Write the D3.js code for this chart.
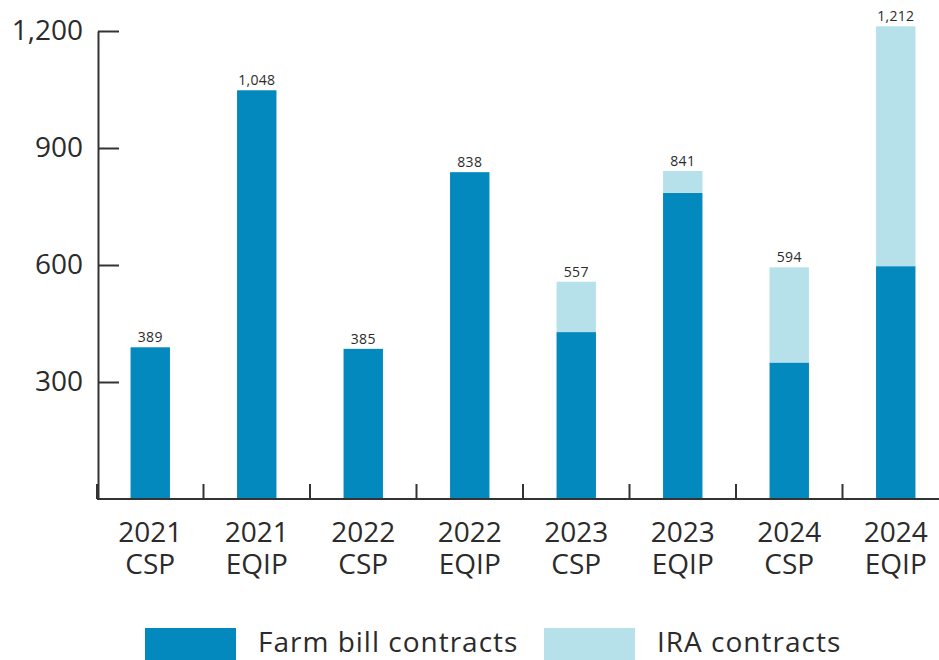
<!DOCTYPE html>
<html>
<head>
<meta charset="utf-8">
<script src="https://cdn.jsdelivr.net/npm/d3@7"></script>
<style>
  body { margin: 0; background: #fff; }
  text { font-family: "Open Sans", "Noto Sans", sans-serif; fill: #2b2b2b; }
</style>
</head>
<body>
<div id="chart"></div>
<script>
var years = ["2021", "2021", "2022", "2022", "2023", "2023", "2024", "2024"];
var programs = ["CSP", "EQIP", "CSP", "EQIP", "CSP", "EQIP", "CSP", "EQIP"];
var farmBill = [389, 1048, 385, 838, 428, 785, 350, 597];
var ira = [0, 0, 0, 0, 129, 56, 244, 615];
var totals = [389, 1048, 385, 838, 557, 841, 594, 1212];
var yTicks = [300, 600, 900, 1200];
var seriesNames = ["Farm bill contracts", "IRA contracts"];
var colors = ["#0389bd", "#b6e1ea"];

plot_stacked_bars("#chart");

function plot_stacked_bars (htmlObjectId) {
    var width = 939;
    var height = 660;
    var baseY = 499;
    var font = "'Open Sans', 'Noto Sans', sans-serif";

    var rows = years.map(function(y, i) {
        return {key: y + " " + programs[i], year: y, program: programs[i],
                farm: farmBill[i], ira: ira[i], total: totals[i]};
    });

    var pad = 0.63;
    var x = d3.scaleBand()
                .domain(rows.map(function(d) { return d.key; }))
                .range([97, 949])
                .paddingInner(pad)
                .paddingOuter(pad / 2);

    var y = d3.scaleLinear()
                .domain([0, 1200])
                .range([baseY, 31]);

    var canvas = d3.select(htmlObjectId)
                    .append("svg")
                    .attr("width", width)
                    .attr("height", height);

    var stacked = d3.stack().keys(["farm", "ira"])(rows);

    canvas.selectAll("g.layer")
        .data(stacked)
        .enter()
            .append("g")
            .attr("class", "layer")
            .attr("fill", function(d, i) { return colors[i]; })
            .selectAll("rect")
            .data(function(d) { return d; })
            .enter()
                .append("rect")
                .attr("x", function(d) { return x(d.data.key); })
                .attr("width", x.bandwidth())
                .attr("y", function(d) { return y(d[1]); })
                .attr("height", function(d) { return y(d[0]) - y(d[1]); });

    // value labels
    canvas.selectAll("text.val")
        .data(rows)
        .enter()
            .append("text")
            .attr("class", "val")
            .attr("x", function(d) { return x(d.key) + x.bandwidth() / 2; })
            .attr("y", function(d) { return y(d.total) - 5; })
            .attr("text-anchor", "middle")
            .style("font-size", "14px")
            .style("letter-spacing", "0.3px")
            .text(function(d) { return d3.format(",")(d.total); });

    // y axis
    var yAxis = d3.axisLeft(y)
                .tickValues(yTicks)
                .tickSizeInner(-21)
                .tickSizeOuter(0)
                .tickPadding(15)
                .tickFormat(d3.format(","));

    var gy = canvas.append("g")
        .attr("transform", "translate(98,0)")
        .call(yAxis);
    gy.selectAll("path, line").attr("stroke", "#333").attr("stroke-width", 2);
    gy.selectAll("text").style("font-size", "28px").attr("fill", "#2b2b2b")
        .style("font-family", font);

    // x axis
    var xAxis = d3.axisBottom(x).tickSize(0).tickFormat("");
    var gx = canvas.append("g")
        .attr("transform", "translate(0," + baseY + ")")
        .call(xAxis);
    gx.select(".domain").attr("d", "M97,0H939").attr("stroke", "#333").attr("stroke-width", 2);

    var half = x.step() * pad / 2;
    gx.selectAll("line.bound")
        .data(rows)
        .enter()
            .append("line")
            .attr("class", "bound")
            .attr("x1", function(d) { return x(d.key) - half; })
            .attr("x2", function(d) { return x(d.key) - half; })
            .attr("y1", 0)
            .attr("y2", -15)
            .attr("stroke", "#333")
            .attr("stroke-width", 2);

    var cx = function(d) { return x(d.key) + x.bandwidth() / 2; };
    gx.selectAll("text.yr")
        .data(rows)
        .enter()
            .append("text")
            .attr("class", "yr")
            .attr("x", cx)
            .attr("y", 43)
            .attr("text-anchor", "middle")
            .style("font-size", "28px")
            .text(function(d) { return d.year; });
    gx.selectAll("text.prog")
        .data(rows)
        .enter()
            .append("text")
            .attr("class", "prog")
            .attr("x", cx)
            .attr("y", 75)
            .attr("text-anchor", "middle")
            .style("font-size", "28px")
            .text(function(d) { return d.program; });

    // legend
    var legX = [145, 544];
    var legend = canvas.selectAll("g.leg")
        .data(seriesNames)
        .enter()
            .append("g")
            .attr("class", "leg")
            .attr("transform", function(d, i) { return "translate(" + legX[i] + ",628)"; });
    legend.append("rect")
        .attr("width", 91)
        .attr("height", 32)
        .attr("fill", function(d, i) { return colors[i]; });
    legend.append("text")
        .attr("x", 113)
        .attr("y", 24)
        .style("font-size", "28px")
        .style("letter-spacing", "1px")
        .text(function(d) { return d; });
}
</script>
</body>
</html>
